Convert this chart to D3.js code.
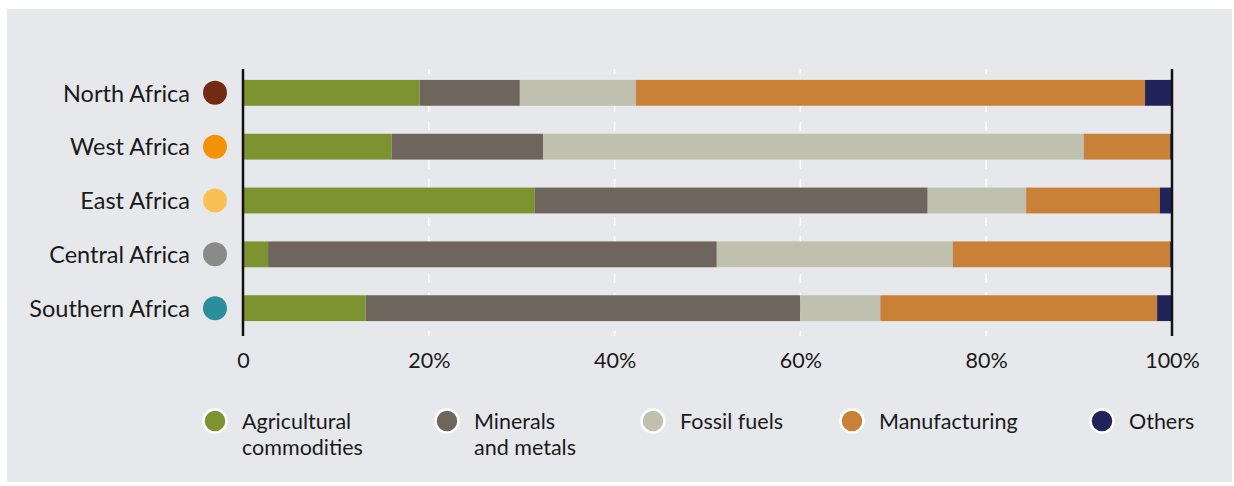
<!DOCTYPE html>
<html>
<head>
<meta charset="utf-8">
<script src="https://cdn.jsdelivr.net/npm/d3@7"></script>
<style>
  html, body { margin: 0; padding: 0; background: #ffffff; }
  svg { display: block; font-family: Lato, "Open Sans", sans-serif; }
</style>
</head>
<body>
<div id="chart"></div>
<script>
// Regionen und Anteile der Exportkategorien (in %)
const regions = ["North Africa", "West Africa", "East Africa", "Central Africa", "Southern Africa"];
const regionColors = ["#722a12", "#f39207", "#f9c153", "#8a8a88", "#2a8f9b"];

const categories = ["Agricultural commodities", "Minerals and metals", "Fossil fuels", "Manufacturing", "Others"];
const categoryColors = ["#7d932f", "#6e665c", "#c0c0ae", "#c98137", "#21235b"];

const agricultural = [19.0, 16.0, 31.4, 2.7, 13.2];
const minerals = [10.8, 16.3, 42.3, 48.3, 46.8];
const fossil = [12.5, 58.2, 10.6, 25.4, 8.6];
const manufacturing = [54.8, 9.3, 14.4, 23.4, 29.8];
const others = [2.9, 0.2, 1.3, 0.2, 1.6];

const tickValues = [0, 20, 40, 60, 80, 100];
const tickLabels = ["0", "20%", "40%", "60%", "80%", "100%"];

/**
 * Zeichnet das gestapelte Balkendiagramm
 */
function drawChart() {
    const width = 1234;
    const height = 486;

    const svg = d3.select("#chart")
        .append("svg")
        .attr("width", width)
        .attr("height", height);

    // grauer Hintergrund
    svg.append("rect")
        .attr("x", 7)
        .attr("y", 9)
        .attr("width", 1225)
        .attr("height", 473)
        .attr("fill", "#e7e8ec");

    const series = [agricultural, minerals, fossil, manufacturing, others];
    const rows = regions.map((region, i) => {
        const row = { region };
        categories.forEach((c, j) => { row[c] = series[j][i]; });
        return row;
    });

    const stacked = d3.stack().keys(categories)(rows);

    const x = d3.scaleLinear()
        .domain([0, 100])
        .range([243, 1172]);

    const y = d3.scaleBand()
        .domain(regions)
        .range([67, 334])
        .paddingInner(0.52)
        .paddingOuter(0.24);

    // gestrichelte Gitterlinien
    svg.append("g")
        .selectAll("line")
        .data(tickValues.filter(d => d > 0 && d < 100))
        .enter()
        .append("line")
        .attr("x1", d => x(d))
        .attr("x2", d => x(d))
        .attr("y1", 69)
        .attr("y2", 336)
        .attr("stroke", "#ffffff")
        .attr("stroke-width", 1.5)
        .attr("stroke-dasharray", "9,10")
        .attr("stroke-dashoffset", 4);

    // Balken
    const layers = svg.append("g")
        .selectAll("g")
        .data(stacked)
        .enter()
        .append("g")
        .attr("fill", (d, i) => categoryColors[i]);

    layers.selectAll("rect")
        .data(d => d)
        .enter()
        .append("rect")
        .attr("x", d => x(d[0]))
        .attr("y", d => y(d.data.region))
        .attr("width", d => Math.max(0, x(d[1]) - x(d[0])))
        .attr("height", y.bandwidth());

    // Achsenlinien bei 0 und 100 %
    [0, 100].forEach(v => {
        svg.append("line")
            .attr("x1", x(v))
            .attr("x2", x(v))
            .attr("y1", 69)
            .attr("y2", 336)
            .attr("stroke", "#111111")
            .attr("stroke-width", 2.5);
    });

    // X-Achse (nur Beschriftung)
    const xAxis = d3.axisBottom(x)
        .tickValues(tickValues)
        .tickFormat((d, i) => tickLabels[i])
        .tickSize(0)
        .tickPadding(0);

    const xAxisG = svg.append("g")
        .attr("transform", "translate(0, 353)")
        .call(xAxis);
    xAxisG.select(".domain").remove();
    xAxisG.selectAll("text")
        .attr("dy", "0.71em")
        .style("font-size", "21.5px")
        .style("font-family", "Lato, 'Open Sans', sans-serif")
        .attr("fill", "#1a1a1a");

    // Regionsbeschriftungen mit Kreisen
    const labels = svg.append("g")
        .selectAll("g")
        .data(regions)
        .enter()
        .append("g")
        .attr("transform", d => `translate(0, ${y(d) + y.bandwidth() / 2})`);

    labels.append("text")
        .attr("x", 190)
        .attr("y", 0)
        .attr("dy", "0.37em")
        .attr("text-anchor", "end")
        .style("font-size", "23.5px")
        .attr("fill", "#1a1a1a")
        .text(d => d);

    labels.append("circle")
        .attr("cx", 215)
        .attr("cy", 0)
        .attr("r", 12)
        .attr("fill", (d, i) => regionColors[i]);

    // Legende
    const legendX = [215, 447, 653, 852, 1102];
    const legendLines = [["Agricultural", "commodities"], ["Minerals", "and metals"], ["Fossil fuels"], ["Manufacturing"], ["Others"]];

    const legend = svg.append("g")
        .selectAll("g")
        .data(categories)
        .enter()
        .append("g")
        .attr("transform", (d, i) => `translate(${legendX[i]}, 421)`);

    legend.append("circle")
        .attr("r", 11.5)
        .attr("fill", (d, i) => categoryColors[i])
        .attr("stroke", "#ffffff")
        .attr("stroke-width", 2.5);

    // zweizeilige Einträge mit etwas Abstand, damit sich die Zeilen nicht überlappen
    legend.each(function(d, i) {
        d3.select(this).selectAll("text")
            .data(legendLines[i])
            .enter()
            .append("text")
            .attr("x", 27)
            .attr("y", (t, k) => 8 + k * 25.5)
            .style("font-size", "21.5px")
            .attr("fill", "#1a1a1a")
            .text(t => t);
    });
}

drawChart();
</script>
</body>
</html>
